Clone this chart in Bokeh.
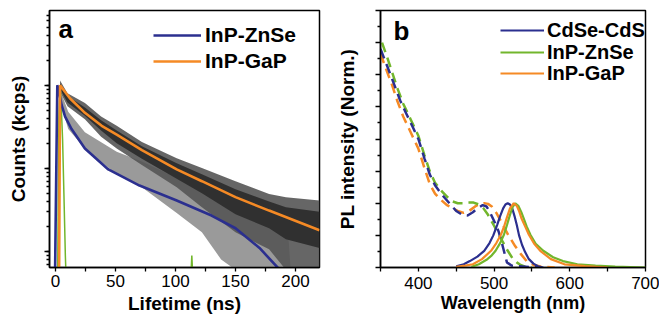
from bokeh.plotting import figure
from bokeh.layouts import row
from bokeh.models import Legend, LegendItem, Label, FixedTicker, LogTicker, CustomJSTickFormatter
from bokeh.embed import file_html
from bokeh.resources import INLINE

FONT = "Liberation Sans"
BLUE = "#2b2f8f"
ORANGE = "#f58a25"
GREEN = "#72b62c"

# ---------------- Panel a: decay traces ----------------
a_xticks = [0, 50, 100, 150, 200]
a_xminor = [25, 75, 125, 175]

# InP-GaP measured data (dark grey band: outer spread and dense core)
gap_t = [3.0, 3.8, 10, 24.5, 38, 51, 72, 101, 122, 150, 178, 192, 220]
gap_hi = [6.0, 1140, 800, 610, 420, 325, 207, 132, 101, 70, 49, 45, 41]
gap_lo = [6.0, 837, 560, 389, 240, 173, 110, 59, 34, 17, 10.6, 6.0, 6.0]
gap_core_hi = [6.0, 1050, 740, 540, 380, 285, 185, 115, 85, 56, 40, 34, 30]
gap_core_lo = [6.0, 900, 620, 430, 285, 200, 130, 75, 50, 28, 19, 14, 11]

# InP-ZnSe measured data (light grey band)
zn_t = [0.5, 3.0, 10.6, 24.5, 51, 72, 101, 122, 138, 150, 178, 194, 196]
zn_hi = [6.0, 950, 480, 271, 158, 121, 77, 59, 48, 41, 26, 16, 6.0]
zn_lo = [6.0, 700, 297, 173, 84, 59, 29, 17, 8.0, 6.0, 6.0, 6.0, 6.0]

# Fits
fit_zn_t = [-0.4, 1.5, 2.5, 5, 8, 13.4, 24.5, 44, 70, 101, 130, 150, 170, 186]
fit_zn_c = [5, 1000, 900, 583, 420, 297, 173, 97, 62, 41, 27, 19, 11, 6.2]
fit_gap_t = [3.0, 3.8, 12, 24.5, 38.5, 51, 72, 101, 122, 150, 178, 220]
fit_gap_c = [5, 1000, 698, 466, 325, 255, 166, 97, 70, 45, 31, 18]

# Instrument response
irf_t = [1.8, 2.8, 3.8, 4.8, 5.9, 7.0, 8.2, 8.8]
irf_c = [5, 400, 1000, 550, 226, 50, 9, 5]
irf2_t = [112.8, 113.6, 114.4]
irf2_c = [5, 8.9, 5]

# ---------------- Panel b: spectra ----------------
b_xticks = [400, 500, 600, 700]
b_xminor = [350, 450, 550, 650]
b_yticks = [0, 0.5, 1.0, 1.5, 2.0, 2.5, 3.0, 3.5, 4.0]
b_yminor = [0.25, 0.75, 1.25, 1.75, 2.25, 2.75, 3.25, 3.75]

em_cd_x = [450, 460, 468, 478, 487, 494, 499, 504, 508, 512, 515, 518, 521,
           524, 527, 530, 533, 537, 541, 546, 552, 558, 565]
em_cd_y = [0.02, 0.05, 0.1, 0.17, 0.26, 0.38, 0.5, 0.66, 0.8, 0.92, 0.98, 1.0, 0.98,
           0.92, 0.8, 0.66, 0.5, 0.35, 0.24, 0.13, 0.06, 0.02, 0.0]
em_zn_x = [470, 480, 490, 497, 502, 508, 513, 517, 520, 524, 528, 532, 536, 539,
           543, 548, 555, 565, 578, 591, 610, 634, 660, 700]
em_zn_y = [0.01, 0.05, 0.12, 0.19, 0.26, 0.38, 0.51, 0.66, 0.78, 0.93, 1.0, 0.96, 0.86, 0.77,
           0.64, 0.51, 0.37, 0.26, 0.16, 0.1, 0.05, 0.03, 0.015, 0.0]
em_gap_x = [450, 462, 472, 484, 496, 503, 509, 513, 517, 521, 526, 530, 533, 536,
            541, 546, 553, 561, 575, 593, 620, 650]
em_gap_y = [0.01, 0.03, 0.05, 0.13, 0.26, 0.38, 0.51, 0.63, 0.78, 0.92, 1.0, 0.96, 0.88, 0.77,
            0.64, 0.51, 0.37, 0.26, 0.13, 0.05, 0.02, 0.0]

ab_cd_x = [350, 355, 360, 368, 376, 383, 390, 400, 408, 415, 422, 430, 441, 450,
           458, 465, 472, 478, 485, 490, 495, 501, 506, 511, 517, 523, 530, 560]
ab_cd_y = [3.4, 3.25, 3.1, 2.85, 2.6, 2.42, 2.25, 2.0, 1.7, 1.45, 1.28, 1.15, 1.0, 0.88,
           0.82, 0.81, 0.86, 0.92, 0.97, 0.95, 0.85, 0.7, 0.56, 0.35, 0.08, 0.03, 0.02, 0.0]
ab_zn_x = [352, 358, 365, 372, 380, 390, 400, 408, 415, 422, 430, 438, 445, 452, 460,
           467, 473, 480, 486, 492, 500, 506, 511, 517, 524, 530, 535, 542, 550]
ab_zn_y = [3.5, 3.3, 3.05, 2.8, 2.55, 2.3, 2.05, 1.75, 1.5, 1.32, 1.2, 1.1, 1.03, 1.0, 1.0,
           1.01, 1.01, 0.98, 0.92, 0.82, 0.65, 0.52, 0.41, 0.28, 0.15, 0.08, 0.04, 0.01, 0.0]
ab_gap_x = [350, 357, 365, 372, 380, 390, 400, 408, 415, 422, 430, 438, 445, 452, 460,
            467, 475, 481, 487, 492, 497, 503, 510, 519, 528, 536, 543, 552, 560, 580]
ab_gap_y = [3.33, 3.1, 2.85, 2.6, 2.35, 2.1, 1.85, 1.55, 1.3, 1.15, 1.05, 0.97, 0.92, 0.88, 0.85,
            0.88, 0.95, 0.99, 1.0, 0.99, 0.95, 0.85, 0.7, 0.5, 0.33, 0.2, 0.1, 0.04, 0.02, 0.0]


def style_axes(p):
    p.grid.visible = False
    p.outline_line_color = "black"
    p.outline_line_width = 1.5
    p.outline_line_alpha = 1
    for ax in (p.xaxis[0], p.yaxis[0]):
        ax.axis_line_width = 1.5
        ax.major_tick_line_width = 1.3
        ax.minor_tick_line_width = 1.3
        ax.major_tick_in = 0
        ax.minor_tick_in = 0
        ax.axis_label_text_font = FONT
        ax.axis_label_text_font_style = "bold"
        ax.axis_label_text_font_size = "19px"
        ax.axis_label_text_color = "black"
        ax.major_label_text_font = FONT
        ax.major_label_text_font_size = "17px"
        ax.major_label_text_color = "black"
    p.xaxis.major_tick_out = 4
    p.xaxis.minor_tick_out = 4
    p.xaxis.major_label_standoff = 3
    p.yaxis.major_tick_out = 5
    p.yaxis.minor_tick_out = 3
    p.yaxis.formatter = CustomJSTickFormatter(code="return '';")
    p.yaxis.major_label_standoff = 0


def row_legend(p, label, renderer, x, y, size, glyph_w, standoff):
    p.add_layout(Legend(items=[LegendItem(label=label, renderers=[renderer])],
                        location=(x, y), orientation="vertical",
                        glyph_width=glyph_w, glyph_height=30, label_height=30,
                        label_standoff=standoff, spacing=0, padding=0, margin=0,
                        label_text_font=FONT, label_text_font_style="bold",
                        label_text_font_size=size, label_text_color="black",
                        background_fill_alpha=0, border_line_color=None))


# ----- figure a -----  frame: x 49..319, y 10..269
pa = figure(width=333, height=324, x_range=(-5, 220), y_range=(6.4, 7943),
            y_axis_type="log", output_backend="svg", toolbar_location=None,
            min_border_left=49, min_border_right=14, min_border_top=10,
            min_border_bottom=55)
pa.varea(x=zn_t, y1=zn_lo, y2=zn_hi, fill_color="#8f8f8f", fill_alpha=0.9)
pa.varea(x=gap_t, y1=gap_lo, y2=gap_hi, fill_color="#555555", fill_alpha=0.9)
pa.varea(x=gap_t, y1=gap_core_lo, y2=gap_core_hi, fill_color="#303030", fill_alpha=1)
pa.line(irf_t, irf_c, line_color=GREEN, line_width=1.5)
pa.line(irf2_t, irf2_c, line_color=GREEN, line_width=1.5)
r_zn = pa.line(fit_zn_t, fit_zn_c, line_color=BLUE, line_width=2.6)
r_gap = pa.line(fit_gap_t, fit_gap_c, line_color=ORANGE, line_width=2.6)
style_axes(pa)
pa.xaxis.ticker = FixedTicker(ticks=a_xticks, minor_ticks=a_xminor)
pa.yaxis.ticker = LogTicker(num_minor_ticks=10)
pa.xaxis.axis_label = "Lifetime (ns)"
pa.xaxis.axis_label_standoff = 3
pa.yaxis.axis_label = "Counts (kcps)"
pa.yaxis.axis_label_standoff = 16

row_legend(pa, "InP-ZnSe", r_zn, 104, 217, "21px", 48, 4)
row_legend(pa, "InP-GaP", r_gap, 104, 191, "21px", 48, 4)
pa.add_layout(Label(x=9, y=224, x_units="screen", y_units="screen", text="a",
                    text_font=FONT, text_font_style="bold", text_font_size="26px",
                    text_color="black"))

# ----- figure b -----  frame: x 375..645, y 6..267
pb = figure(width=326, height=324, x_range=(350, 700), y_range=(0, 4),
            output_backend="svg", toolbar_location=None,
            min_border_left=42, min_border_right=14, min_border_top=6,
            min_border_bottom=57)
for xs, ys, c in ((ab_gap_x, ab_gap_y, ORANGE), (ab_zn_x, ab_zn_y, GREEN),
                  (ab_cd_x, ab_cd_y, BLUE)):
    pb.line(xs, ys, line_color=c, line_width=2.5, line_dash="10 6")
r_cd = pb.line(em_cd_x, em_cd_y, line_color=BLUE, line_width=2.2)
r_zn2 = pb.line(em_zn_x, em_zn_y, line_color=GREEN, line_width=2.2)
r_gap2 = pb.line(em_gap_x, em_gap_y, line_color=ORANGE, line_width=2.2)
style_axes(pb)
pb.xaxis.major_label_standoff = 5
pb.xaxis.ticker = FixedTicker(ticks=b_xticks, minor_ticks=b_xminor)
pb.yaxis.ticker = FixedTicker(ticks=b_yticks, minor_ticks=b_yminor)
pb.xaxis.axis_label = "Wavelength (nm)"
pb.xaxis.axis_label_text_font_size = "18px"
pb.xaxis.axis_label_standoff = 1
pb.yaxis.axis_label = "PL intensity (Norm.)"
pb.yaxis.axis_label_standoff = 18

row_legend(pb, "CdSe-CdS", r_cd, 120, 222, "20px", 44, 3)
row_legend(pb, "InP-ZnSe", r_zn2, 120, 200, "20px", 44, 3)
row_legend(pb, "InP-GaP", r_gap2, 120, 179, "20px", 44, 3)
pb.add_layout(Label(x=13, y=222, x_units="screen", y_units="screen", text="b",
                    text_font=FONT, text_font_style="bold", text_font_size="26px",
                    text_color="black"))

layout = row(pa, pb)
open("out.html", "w").write(file_html(layout, INLINE))
